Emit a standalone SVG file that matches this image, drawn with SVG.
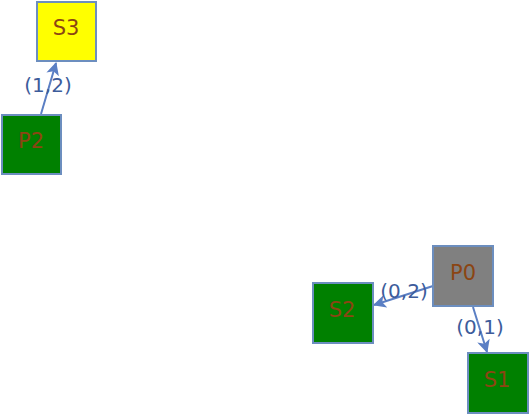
<svg xmlns="http://www.w3.org/2000/svg" width="530" height="415" viewBox="0 0 530 415">
<style>
.node rect{stroke:#6c8ebf;stroke-width:2}
.node text{font-family:"DejaVu Sans",sans-serif;font-size:21px;fill:#8b4513;text-anchor:middle}
.edge line{stroke:#5b7fc4;stroke-width:2;marker-end:url(#arr)}
.lbl{font-family:"DejaVu Sans",sans-serif;font-size:20px;fill:#3d5c9b;text-anchor:middle}
</style>
<defs>
<marker id="arr" viewBox="0 0 12 12" refX="11" refY="6" markerWidth="13" markerHeight="13" orient="auto" markerUnits="userSpaceOnUse">
<path d="M0,0 L12,6 L0,12 L3,6 Z" fill="#5b7fc4"/>
</marker>
</defs>
<g id="connectors" class="edge">
<line x1="41" y1="114" x2="56" y2="63"/>
<line x1="433" y1="286" x2="374" y2="305"/>
<line x1="473" y1="307" x2="487" y2="352"/>
</g>
<g id="S3" class="node"><rect x="37" y="2" width="59" height="59" fill="#ffff00"/><text x="66" y="35">S3</text></g>
<g id="P2" class="node"><rect x="2" y="115" width="59" height="59" fill="#008000"/><text x="31" y="148">P2</text></g>
<g id="P0" class="node"><rect x="433" y="246" width="60" height="60" fill="#808080"/><text x="463" y="280">P0</text></g>
<g id="S2" class="node"><rect x="313" y="283" width="60" height="60" fill="#008000"/><text x="342" y="317">S2</text></g>
<g id="S1" class="node"><rect x="468" y="353" width="60" height="60" fill="#008000"/><text x="497" y="387">S1</text></g>
<g id="labels">
<text class="lbl" x="48" y="92">(1,2)</text>
<text class="lbl" x="404" y="298">(0,2)</text>
<text class="lbl" x="480" y="334">(0,1)</text>
</g>
</svg>
